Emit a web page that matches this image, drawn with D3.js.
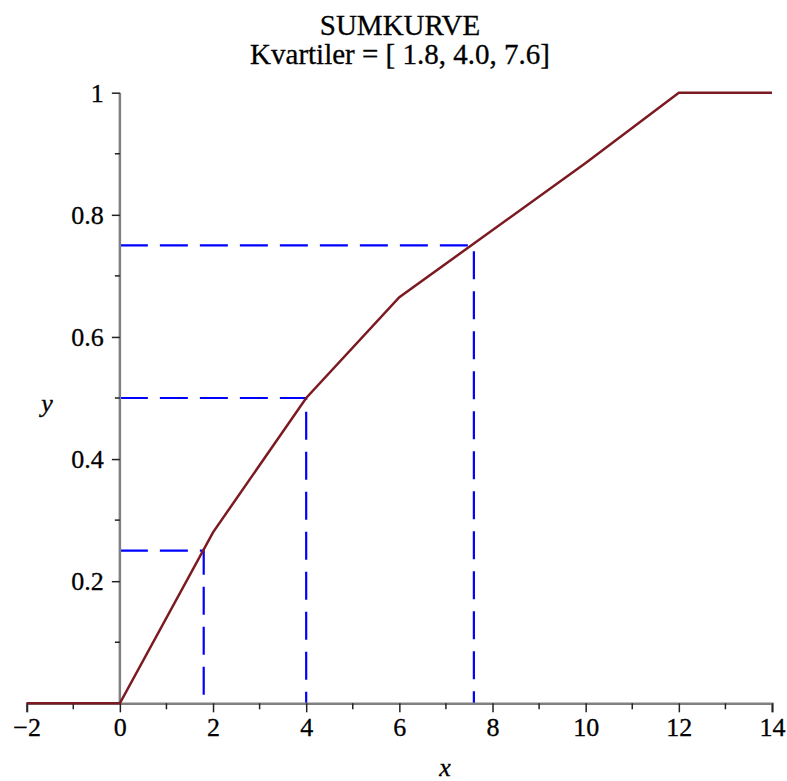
<!DOCTYPE html>
<html>
<head>
<meta charset="utf-8">
<script src="https://cdn.jsdelivr.net/npm/d3@7"></script>
<style>
  body { margin: 0; background: #fff; }
  text { font-family: "Liberation Serif", "Times New Roman", serif; fill: #000; stroke: #000; stroke-width: 0.3px; }
</style>
</head>
<body>
<script>
const w = 787;
const h = 781;

// cumulative curve (sumkurve)
const xVals = [-2, 0, 2, 4, 6, 10, 12, 14];
const yVals = [0, 0, 0.28, 0.5, 0.665, 0.885, 1, 1];

// quartiles
const quartiles = [1.8, 4.0, 7.6];
const levels = [0.25, 0.5, 0.75];

const xTicks = [-2, 0, 2, 4, 6, 8, 10, 12, 14];
const yTicks = [0.2, 0.4, 0.6, 0.8, 1];

const titleLines = ["SUMKURVE", "Kvartiler = [ 1.8, 4.0, 7.6]"];

const xScale = d3.scaleLinear().domain([-2, 14]).range([26.7, 772]);
const yScale = d3.scaleLinear().domain([0, 1]).range([703.3, 92.7]);

const svg = d3.select("body")
              .append("svg")
              .attr("width", w)
              .attr("height", h)

// title
svg.selectAll(".title")
   .data(titleLines)
   .enter()
   .append("text")
   .attr("class", "title")
   .attr("x", 400)
   .attr("y", (d, i) => 35 + i * 29)
   .attr("text-anchor", "middle")
   .style("font-size", "29px")
   .text(d => d)

// quartile guides
const guide = d3.line()
quartiles.forEach(function(q, i) {
  svg.append("path")
     .attr("d", guide([[xScale(0), yScale(levels[i])], [xScale(q), yScale(levels[i])], [xScale(q), yScale(0)]]))
     .attr("fill", "none")
     .attr("stroke", "#0000ff")
     .attr("stroke-width", 2.2)
     .attr("stroke-dasharray", "28,12")
})

// x axis
const xAxis = d3.axisBottom(xScale)
                .tickValues(xTicks)
                .tickSize(9)
                .tickPadding(5)
                .tickFormat(d => d < 0 ? "\u2212" + Math.abs(d) : d)

const gx = svg.append("g")
              .attr("transform", "translate(0," + yScale(0) + ")")
              .call(xAxis)
gx.select(".domain").attr("stroke", "#808080").attr("stroke-width", 2.5)
gx.selectAll(".tick line").attr("stroke", "#222").attr("stroke-width", 1.5)
gx.selectAll(".tick text").style("font-size", "26px").attr("font-family", null)

const xMinor = d3.range(-1, 14, 2)
svg.selectAll(".xminor")
   .data(xMinor)
   .enter()
   .append("line")
   .attr("x1", d => xScale(d)).attr("x2", d => xScale(d))
   .attr("y1", yScale(0)).attr("y2", yScale(0) + 6)
   .attr("stroke", "#222").attr("stroke-width", 1.5)

// y axis
const yAxis = d3.axisLeft(yScale)
                .tickValues(yTicks)
                .tickSize(8)
                .tickPadding(8)
                .tickFormat(d => d === 1 ? "1" : d3.format(".1f")(d))

const gy = svg.append("g")
              .attr("transform", "translate(" + xScale(0) + ",0)")
              .call(yAxis)
gy.select(".domain").attr("d", "M0," + yScale(0) + "V" + yScale(1))
  .attr("stroke", "#808080").attr("stroke-width", 2.5)
gy.selectAll(".tick line").attr("stroke", "#222").attr("stroke-width", 1.5)
gy.selectAll(".tick text").style("font-size", "26px").attr("font-family", null)

const yMinor = [0.1, 0.3, 0.5, 0.7, 0.9]
svg.selectAll(".yminor")
   .data(yMinor)
   .enter()
   .append("line")
   .attr("x1", xScale(0) - 5).attr("x2", xScale(0))
   .attr("y1", d => yScale(d)).attr("y2", d => yScale(d))
   .attr("stroke", "#222").attr("stroke-width", 1.5)

// curve
const line = d3.line()
               .x(d => xScale(d[0]))
               .y(d => yScale(d[1]))

svg.append("path")
   .datum(xVals.map((x, i) => [x, yVals[i]]))
   .attr("d", line)
   .attr("fill", "none")
   .attr("stroke", "#7c1a22")
   .attr("stroke-width", 2.5)

// axis labels
svg.append("text")
   .attr("x", 445)
   .attr("y", 776)
   .attr("text-anchor", "middle")
   .style("font-size", "26px")
   .style("font-style", "italic")
   .text("x")

svg.append("text")
   .attr("x", 47)
   .attr("y", 412)
   .attr("text-anchor", "middle")
   .style("font-size", "26px")
   .style("font-style", "italic")
   .text("y")
</script>
</body>
</html>
